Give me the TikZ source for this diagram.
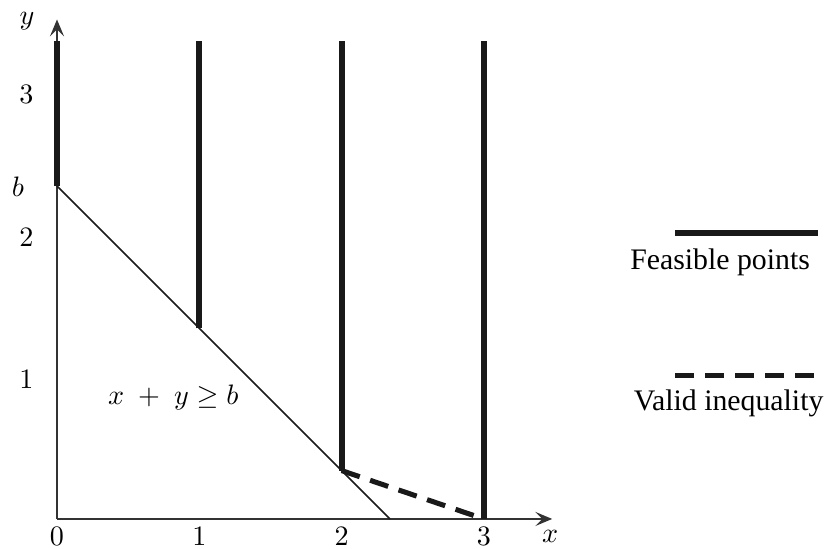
\documentclass[tikz,border=0pt]{standalone}
\usepackage{fontspec}
\newfontfamily\legendfont{Liberation Serif}
\usetikzlibrary{arrows.meta}
\tikzset{
  axis/.style={line width=0.7pt, draw=black!80},
  feasible/.style={line width=2.2pt, draw=black!90},
  valid/.style={line width=1.8pt, draw=black!90, dash pattern=on 6.8pt off 3.9pt},
  bound/.style={line width=0.55pt, draw=black!90},
  ticklabel/.style={font=\fontsize{9.6}{12}\selectfont, inner sep=0pt},
  legendlabel/.style={font=\fontsize{10.6}{12}\selectfont\legendfont, inner sep=0pt}
}
\begin{document}
\begin{tikzpicture}[x=1.779cm, y=1.779cm]
  \useasboundingbox (-0.4006,-0.211) rectangle (5.404,3.647);
  % axes
  \coordinate (O) at (0,0);
  \coordinate (xend) at (3.48,0);
  \coordinate (yend) at (0,3.51);
  \draw[axis, -{Stealth[length=6pt, width=5pt, inset=2.5pt]}] (O) -- (xend);
  \draw[axis, -{Stealth[length=6pt, width=5pt, inset=2.5pt]}] (O) -- (yend);
  \node[ticklabel] (xlab) at (3.465,-0.125) {$x$};
  \node[ticklabel] (ylab) at (-0.21,3.50) {$y$};

  % tick labels
  \foreach \i in {0,1,2,3} \node[ticklabel] (xt\i) at (\i,-0.125) {$\i$};
  \foreach \i in {1,2,3} \node[ticklabel] (yt\i) at (-0.215,\i-0.02) {$\i$};
  \node[ticklabel] (blab) at (-0.274,2.333) {$b$};

  % feasible points on the lines x = 0,1,2,3
  \foreach \i/\lo in {0/2.34,1/1.34,2/0.34,3/0} {
    \coordinate (lo\i) at (\i,\lo);
    \coordinate (hi\i) at (\i,3.36);
    \draw[feasible] (lo\i) -- (hi\i);
  }

  % x + y >= b and the valid inequality
  \coordinate (bx) at (2.34,0);
  \draw[bound] (lo0) -- (bx);
  \draw[valid] (lo2) -- (lo3);
  \node[ticklabel] (ineq) at (0.817,0.857) {$x\;+\;y \geq b$};

  % legend
  \coordinate (fa) at (4.343,2.01);
  \coordinate (fb) at (5.348,2.01);
  \draw[feasible] (fa) -- (fb);
  \node[legendlabel] (flab) at (4.66,1.80) {Feasible points};
  \coordinate (va) at (4.343,1.005);
  \coordinate (vb) at (5.348,1.005);
  \draw[valid] (va) -- (vb);
  \node[legendlabel] (vlab) at (4.72,0.815) {Valid inequality};
\end{tikzpicture}
\end{document}
